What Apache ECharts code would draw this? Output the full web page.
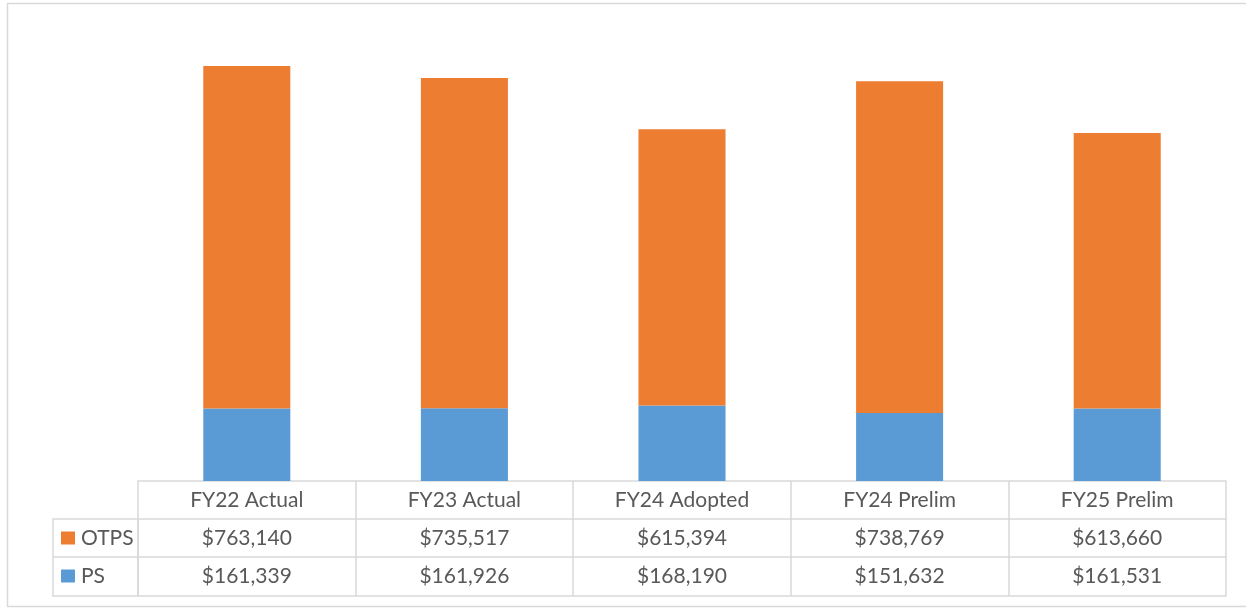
<!DOCTYPE html>
<html>
<head>
<meta charset="utf-8">
<script src="https://cdn.jsdelivr.net/npm/echarts@6/dist/echarts.min.js"></script>
<style>
  html, body { margin: 0; padding: 0; background: #fff; }
  #chart { width: 1246px; height: 609px; }
</style>
</head>
<body>
<div id="chart"></div>
<script>
const categories = ['FY22 Actual', 'FY23 Actual', 'FY24 Adopted', 'FY24 Prelim', 'FY25 Prelim']
const psValues = [161339, 161926, 168190, 151632, 161531]
const otpsValues = [763140, 735517, 615394, 738769, 613660]

const lineColor = '#d9d9d9'
const textColor = '#595959'
const font = 'Lato'
const fontSize = 21

const money = v => '$' + v.toLocaleString('en-US')

const chart = echarts.init(document.getElementById('chart'))

// one bottom axis per table row, stacked with offsets
function rowAxis (offset, values, withTicks) {
  return {
    type: 'category',
    data: categories,
    position: 'bottom',
    offset: offset,
    axisLine: { show: true, lineStyle: { color: lineColor, width: 1.5 } },
    axisTick: {
      show: withTicks,
      length: 115,
      interval: 0,
      lineStyle: { color: lineColor, width: 1.5 }
    },
    axisLabel: {
      show: values !== null,
      interval: 0,
      margin: 19,
      verticalAlign: 'middle',
      color: textColor,
      fontFamily: font,
      fontSize: fontSize,
      formatter: (v, i) => values ? values(v, i) : ''
    }
  }
}

function legendRow (name, top) {
  return {
    data: [name],
    left: 61,
    top: top,
    icon: 'rect',
    itemWidth: 14,
    itemHeight: 13,
    padding: 0,
    textStyle: { color: textColor, fontFamily: font, fontSize: fontSize, lineHeight: 22, padding: [0, 0, 0, 1] }
  }
}

chart.setOption({
  animation: false,
  grid: { left: 138, right: 20, top: 32, bottom: 128 },
  legend: [
    legendRow('OTPS', 527),
    legendRow('PS', 565)
  ],
  xAxis: [
    rowAxis(0, v => v, true),
    rowAxis(38, (v, i) => money(otpsValues[i]), false),
    rowAxis(76, (v, i) => money(psValues[i]), false),
    rowAxis(115, null, false)
  ],
  yAxis: { type: 'value', min: 0, max: 1000000, show: false, splitLine: { show: false } },
  graphic: [
    { type: 'rect', shape: { x: 7.5, y: 3.5, width: 1250, height: 603 }, style: { fill: 'none', stroke: lineColor, lineWidth: 1.5 }, silent: true },
    { type: 'rect', shape: { x: 53, y: 519, width: 85, height: 77 }, style: { fill: 'none', stroke: lineColor, lineWidth: 1.5 }, silent: true },
    { type: 'line', shape: { x1: 53, y1: 557, x2: 138, y2: 557 }, style: { stroke: lineColor, lineWidth: 1.5 }, silent: true }
  ],
  series: [
    {
      name: 'PS',
      type: 'bar',
      stack: 'total',
      barWidth: '40%',
      itemStyle: { color: '#5b9bd5' },
      data: psValues
    },
    {
      name: 'OTPS',
      type: 'bar',
      stack: 'total',
      barWidth: '40%',
      itemStyle: { color: '#ed7d31' },
      data: otpsValues
    }
  ]
})
</script>
</body>
</html>
